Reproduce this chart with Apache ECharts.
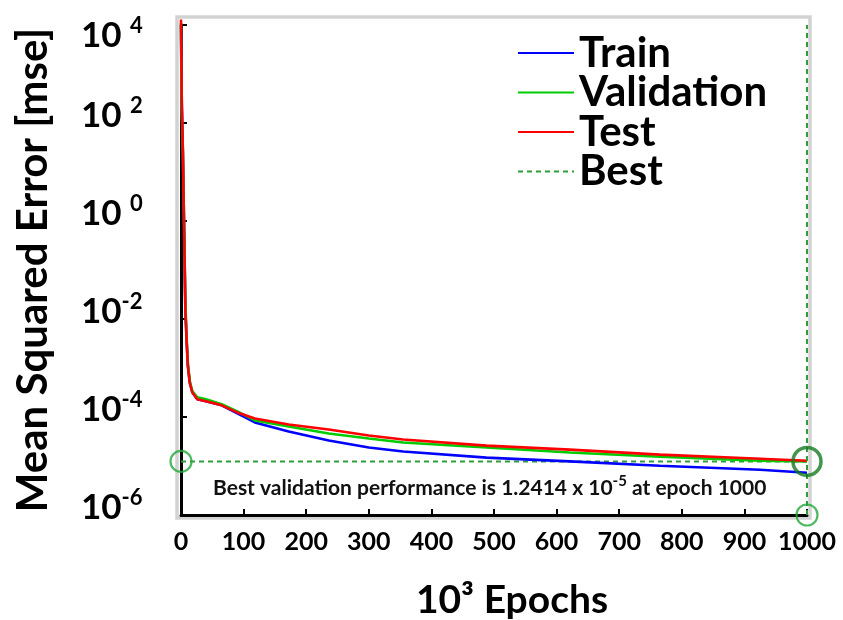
<!DOCTYPE html>
<html>
<head>
<meta charset="utf-8">
<script src="https://cdn.jsdelivr.net/npm/echarts@6/dist/echarts.min.js"></script>
<style>
  html, body { margin: 0; padding: 0; background: #ffffff; }
  #chart { width: 843px; height: 620px; }
</style>
</head>
<body>
<div id="chart"></div>
<script>
// Training record: mean squared error per epoch (thousands of epochs on the axis)
const epochs        = [0, 1, 3, 5, 7, 9, 11, 14, 18, 26, 40, 65, 90, 118, 172, 236, 300, 355, 488, 621, 765, 925, 1000];
const trainMse      = [1.0e4, 300, 25, 0.6, 0.015, 3.5e-3, 1.1e-3, 5.0e-4, 3.2e-4, 2.30e-4, 2.09e-4, 1.73e-4, 1.19e-4, 7.75e-5, 5.06e-5, 3.31e-5, 2.38e-5, 1.97e-5, 1.48e-5, 1.24e-5, 1.01e-5, 8.39e-6, 7.28e-6];
const validationMse = [1.1e4, 200, 25, 0.8, 0.020, 4.0e-3, 1.2e-3, 5.5e-4, 3.4e-4, 2.52e-4, 2.30e-4, 1.82e-4, 1.30e-4, 8.51e-5, 6.41e-5, 4.60e-5, 3.64e-5, 3.01e-5, 2.38e-5, 1.88e-5, 1.55e-5, 1.28e-5, 1.2414e-5];
const testMse       = [1.3e4, 470, 27, 0.6, 0.016, 3.5e-3, 1.1e-3, 5.0e-4, 3.2e-4, 2.30e-4, 2.09e-4, 1.73e-4, 1.24e-4, 9.36e-5, 7.05e-5, 5.56e-5, 4.19e-5, 3.47e-5, 2.61e-5, 2.16e-5, 1.71e-5, 1.41e-5, 1.28e-5];

const bestEpoch = 1000;
const bestValue = 1.2414e-5;
const yMin = 1e-6;
const yMax = 1e4;
const xMax = 1000;

const seriesNames = ['Train', 'Validation', 'Test', 'Best'];
const annotationParts = ['Best validation performance is 1.2414 x 10', '-5', ' at epoch 1000'];

const FONT = 'Lato';
const BEST_GREEN = '#2f9e3a';

const pairs = (ys) => epochs.map((e, i) => [e, ys[i]]);

const chart = echarts.init(document.getElementById('chart'), null, { renderer: 'canvas' });

const lineSeries = (name, color, values) => ({
  name: name,
  type: 'line',
  data: pairs(values),
  symbol: 'none',
  clip: false,
  lineStyle: { color: color, width: 2.6 },
  itemStyle: { color: color },
  z: 3
});

// Power-of-ten tick label: big "10" with a raised exponent.
// The topmost label sits a little below its tick so it stays inside the frame.
const baseTxt = { fontFamily: FONT, fontWeight: 'bold', fontSize: 35, color: '#000' };
const supTxt  = { fontFamily: FONT, fontWeight: 'bold', fontSize: 22, color: '#000' };

chart.setOption({
  animation: false,
  backgroundColor: '#ffffff',
  grid: { left: 181, right: 36, top: 25, bottom: 105, outerBoundsMode: 'none', containLabel: false },
  legend: {
    orient: 'vertical',
    left: 512,
    top: 27,
    itemWidth: 56,
    itemHeight: 14,
    itemGap: -2.5,
    data: seriesNames,
    itemStyle: { color: 'rgba(0,0,0,0)', borderWidth: 0, opacity: 0 },
    textStyle: { fontFamily: FONT, fontWeight: 'bold', fontSize: 42, color: '#000', lineHeight: 37.5 }
  },
  xAxis: {
    type: 'value',
    min: 0,
    max: xMax,
    interval: 100,
    name: '10³ Epochs',
    nameLocation: 'middle',
    nameGap: 66,
    nameTextStyle: { fontFamily: FONT, fontWeight: 'bold', fontSize: 39, color: '#000', padding: [0, 0, 0, 36] },
    axisLine: { lineStyle: { color: '#000', width: 3 } },
    axisTick: { inside: true, length: 6, lineStyle: { color: '#000', width: 2 } },
    axisLabel: { fontFamily: FONT, fontWeight: 'bold', fontSize: 25, color: '#000', margin: 14, formatter: (v) => String(v) },
    splitLine: { show: false }
  },
  yAxis: {
    type: 'log',
    logBase: 10,
    min: yMin,
    max: yMax,
    interval: 2,
    name: 'Mean Squared Error [mse]',
    nameLocation: 'middle',
    nameGap: 127,
    nameTextStyle: { fontFamily: FONT, fontWeight: 'bold', fontSize: 42, color: '#000' },
    axisLine: { lineStyle: { color: '#000', width: 3 } },
    axisTick: { inside: true, length: 6, lineStyle: { color: '#000', width: 2 } },
    axisLabel: {
      align: 'left',
      margin: 100,
      formatter: (v) => {
        const p = Math.round(Math.log10(v));
        if (p >= 4) return '{bt|10 }{st|' + p + '}';
        return p >= 0 ? '{b|10 }{s|' + p + '}' : '{b|10}{s|' + p + '}';
      },
      rich: {
        b:  Object.assign({ padding: [0, 0, 14, 0] }, baseTxt),
        s:  Object.assign({ padding: [0, 0, 34, 0] }, supTxt),
        bt: Object.assign({ padding: [22, 0, 0, 0] }, baseTxt),
        st: Object.assign({ padding: [22, 0, 20, 0] }, supTxt)
      }
    },
    splitLine: { show: false }
  },
  graphic: [
    {
      type: 'rect',
      z: -10,
      shape: { x: 177, y: 17, width: 633, height: 501 },
      style: { fill: 'none', stroke: '#d2d2d2', lineWidth: 3.5 }
    },
    {
      type: 'text',
      left: 213,
      top: 474,
      z: 10,
      style: {
        text: '{t|' + annotationParts[0] + '}{s|' + annotationParts[1] + '}{t|' + annotationParts[2] + '}',
        rich: {
          t: { fontFamily: FONT, fontWeight: 'bold', fontSize: 21, fill: '#111' },
          s: { fontFamily: FONT, fontWeight: 'bold', fontSize: 15, fill: '#111', padding: [0, 0, 13, 0] }
        }
      }
    }
  ],
  series: [
    lineSeries('Train', '#0000ff', trainMse),
    lineSeries('Validation', '#00cc00', validationMse),
    lineSeries('Test', '#ff0000', testMse),
    {
      name: 'Best',
      type: 'line',
      data: [[0, bestValue], [bestEpoch, bestValue]],
      symbol: 'none',
      clip: false,
      lineStyle: { color: BEST_GREEN, width: 2, type: [5, 4] },
      itemStyle: { color: BEST_GREEN },
      z: 2,
      markLine: {
        silent: true,
        symbol: 'none',
        label: { show: false },
        lineStyle: { color: BEST_GREEN, width: 2, type: [5, 4] },
        data: [{ xAxis: bestEpoch }]
      }
    },
    {
      name: 'best-markers',
      type: 'scatter',
      data: [[0, bestValue], [bestEpoch, yMin]],
      symbol: 'circle',
      symbolSize: 21,
      clip: false,
      itemStyle: { color: 'rgba(0,0,0,0)', borderColor: '#22a83a', borderWidth: 2.2 },
      z: 5
    },
    {
      name: 'best-point',
      type: 'scatter',
      data: [[bestEpoch, bestValue]],
      symbol: 'circle',
      symbolSize: 28,
      clip: false,
      itemStyle: { color: 'rgba(0,0,0,0)', borderColor: '#157a20', borderWidth: 3.5 },
      z: 6
    }
  ]
});
</script>
</body>
</html>
